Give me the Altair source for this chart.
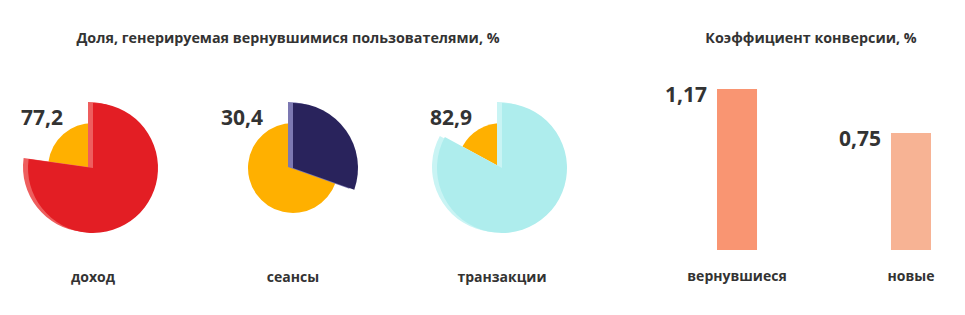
import math
import altair as alt
import pandas as pd

# ---- data ----
metrics = ["доход", "сеансы", "транзакции"]
shares = [77.2, 30.4, 82.9]
main_colors = ["#E31E24", "#29235C", "#AEEDED"]
shadow_colors = ["#EE5E5E", "#7C78B2", "#C9F4F4"]
rest_color = "#FFB000"

bar_groups = ["вернувшиеся", "новые"]
conv_rates = [1.17, 0.75]
bar_colors = ["#F99572", "#F7B394"]

left_title = "Доля, генерируемая вернувшимися пользователями, %"
right_title = "Коэффициент конверсии, %"

FONT = "Open Sans"
TXT = "#333333"

pie_widths = [186, 214, 204]
PIE_H = 190
BAR_H = 177
BAR_W = 270
Y_MIN, Y_MAX = -0.367, 1.3226


def fmt(v, d):
    return f"{v:.{d}f}".replace(".", ",")


def pie(i):
    m, v = metrics[i], shares[i]
    df = pd.DataFrame({
        "metric": [m, m],
        "part": ["returning", "other"],
        "start": [0, v],
        "end": [v, 100],
        "label": [fmt(v, 1), ""],
    })
    base = alt.Chart(df).encode(
        theta=alt.Theta("start:Q", scale=alt.Scale(domain=[0, 100], range=[0, 2 * math.pi])),
        theta2="end:Q",
    )
    rest = base.transform_filter(alt.datum.part == "other").mark_arc(radius=45, color=rest_color)
    shadow = base.transform_filter(alt.datum.part == "returning").mark_arc(
        radius=65, color=shadow_colors[i], xOffset=-5, yOffset=-1)
    main = base.transform_filter(alt.datum.part == "returning").mark_arc(radius=65, color=main_colors[i])
    label = alt.Chart(df).transform_filter(alt.datum.part == "returning").mark_text(
        dx=-51, dy=-49, font=FONT, fontSize=21, fontWeight="bold", color=TXT,
        align="center", baseline="middle").encode(text="label:N")
    return alt.layer(rest, shadow, main, label).properties(
        width=pie_widths[i], height=PIE_H,
        title=alt.Title(m, orient="bottom", offset=8, font=FONT, fontSize=14,
                        fontWeight="bold", color=TXT),
    )


pies = alt.hconcat(*[pie(i) for i in range(3)], spacing=0, bounds="flush").properties(
    title=alt.Title(left_title, font=FONT, fontSize=14.3, fontWeight="bold", color=TXT,
                    offset=27, dx=-14, anchor="middle")
)

bdf = pd.DataFrame({
    "group": bar_groups,
    "rate": conv_rates,
    "label": [fmt(v, 2) for v in conv_rates],
})
bbase = alt.Chart(bdf).encode(
    x=alt.X("group:N", sort=bar_groups,
            scale=alt.Scale(paddingInner=0.77, paddingOuter=0.161),
            axis=alt.Axis(title=None, labelAngle=0, domain=False, ticks=False, labelPadding=19,
                          labelFont=FONT, labelFontSize=14, labelFontWeight="bold", labelColor=TXT)),
    y=alt.Y("rate:Q", scale=alt.Scale(domain=[Y_MIN, Y_MAX]), axis=None),
)
bars = bbase.mark_bar().encode(
    y2=alt.Y2Datum(Y_MIN),
    color=alt.Color("group:N", scale=alt.Scale(domain=bar_groups, range=bar_colors), legend=None),
)
blabels = bbase.mark_text(dx=-30, dy=7, align="right", baseline="middle", font=FONT,
                          fontSize=21, fontWeight="bold", color=TXT).encode(text="label:N")
barchart = alt.layer(bars, blabels).properties(
    width=BAR_W, height=BAR_H,
    title=alt.Title(right_title, font=FONT, fontSize=14.3, fontWeight="bold", color=TXT,
                    offset=27, dx=-13, anchor="middle"),
)

chart = alt.hconcat(pies, barchart, spacing=61).properties(
    padding={"left": 0, "top": 31, "right": 0, "bottom": 5}
).configure_view(stroke=None)

chart.save("out.html", embed_options={"renderer": "svg", "actions": False})
